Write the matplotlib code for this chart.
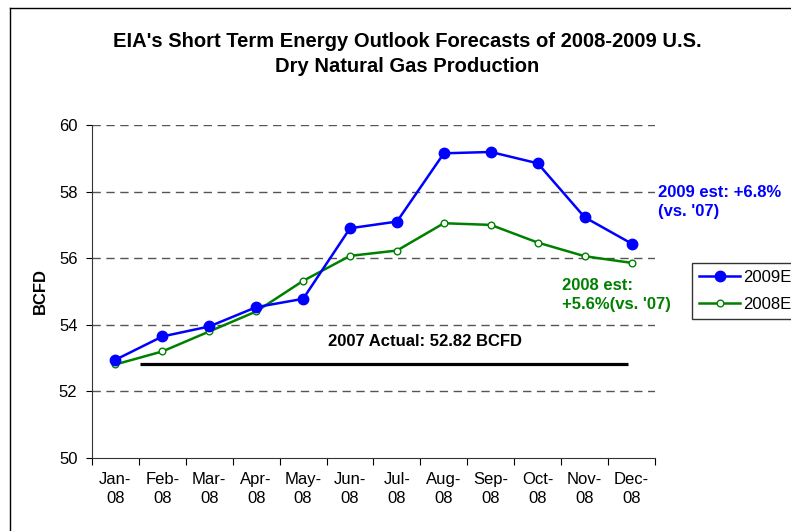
import matplotlib
import matplotlib.pyplot as plt
from matplotlib.lines import Line2D

matplotlib.use("Agg")

plt.rcParams["font.family"] = ["Liberation Sans", "DejaVu Sans"]

# Dados (BCFD)
months = ["Jan-\n08", "Feb-\n08", "Mar-\n08", "Apr-\n08", "May-\n08", "Jun-\n08",
          "Jul-\n08", "Aug-\n08", "Sep-\n08", "Oct-\n08", "Nov-\n08", "Dec-\n08"]
est_2009 = [52.95, 53.65, 53.95, 54.53, 54.78, 56.9, 57.1, 59.15, 59.19, 58.85, 57.23, 56.44]
est_2008 = [52.81, 53.2, 53.8, 54.4, 55.32, 56.07, 56.23, 57.05, 57.0, 56.47, 56.06, 55.86]
actual_2007 = 52.82

fig = plt.figure(figsize=(7.91, 5.31), dpi=100)
ax = fig.add_axes([92 / 791, 1 - 458 / 531, 563 / 791, 333 / 531])

x = list(range(len(months)))
ax.plot(x, est_2009, color="#0000FF", linewidth=1.8, marker="o", markersize=7.5,
        markerfacecolor="#0000FF", markeredgecolor="#0000FF", label="2009E", zorder=4)
ax.plot(x, est_2008, color="#008000", linewidth=1.8, marker="o", markersize=4.8,
        markerfacecolor="white", markeredgecolor="#008000", markeredgewidth=1.0,
        label="2008E", zorder=3)
ax.hlines(actual_2007, 0.53, 10.93, color="black", linewidth=2.3, zorder=2)

ax.set_xlim(-0.5, 11.5)
ax.set_ylim(50, 60)
ax.set_yticks([50, 52, 54, 56, 58, 60])
ax.set_xticks(x)
ax.set_xticklabels(months)
ax.set_xticks([i - 0.5 for i in range(13)], minor=True)
ax.tick_params(axis="x", which="major", length=0, pad=10, labelsize=12)
ax.tick_params(axis="x", which="minor", length=5, width=0.8, direction="out")
ax.tick_params(axis="y", length=4.5, width=0.8, direction="out", pad=6, labelsize=12)
for lbl in ax.get_xticklabels():
    lbl.set_linespacing(1.35)

for v in [52, 54, 56, 58, 60]:
    ax.axhline(v, color="#555555", linewidth=1.0, dashes=(6, 4), zorder=1)

for side in ["top", "right"]:
    ax.spines[side].set_visible(False)
for side in ["left", "bottom"]:
    ax.spines[side].set_linewidth(0.8)
    ax.spines[side].set_color("#333333")

ax.set_ylabel("BCFD", fontsize=12, fontweight="bold")
ax.yaxis.set_label_coords(-0.078, 0.5)

ax.text(6.6, 53.5, "2007 Actual: 52.82 BCFD", fontsize=12, fontweight="bold",
        ha="center", va="center")
fig.text(658 / 791, 1 - 202 / 531, "2009 est: +6.8%\n(vs. '07)", color="#0000FF",
         fontsize=12, fontweight="bold", ha="left", va="center", linespacing=1.4)
fig.text(562 / 791, 1 - 295 / 531, "2008 est:\n+5.6%(vs. '07)", color="#008000",
         fontsize=12, fontweight="bold", ha="left", va="center", linespacing=1.4)

fig.text(407 / 791, 1 - 54 / 531,
         "EIA's Short Term Energy Outlook Forecasts of 2008-2009 U.S.\nDry Natural Gas Production",
         fontsize=14.5, fontweight="bold", ha="center", va="center", linespacing=1.45)

leg = fig.legend(loc="upper left", bbox_to_anchor=(692 / 791, 1 - 263 / 531),
                 bbox_transform=fig.transFigure, fontsize=12, frameon=True,
                 fancybox=False, handlelength=2.5, handletextpad=0.15,
                 borderpad=0.4, labelspacing=0.75, borderaxespad=0)
leg.get_frame().set_edgecolor("black")
leg.get_frame().set_linewidth(1.0)

# borda externa (área do gráfico)
fig.add_artist(Line2D([10 / 791, 10 / 791], [0, 1 - 8 / 531], color="black",
                      linewidth=1.0, transform=fig.transFigure))
fig.add_artist(Line2D([10 / 791, 1], [1 - 8 / 531, 1 - 8 / 531], color="black",
                      linewidth=1.0, transform=fig.transFigure))

fig.savefig("out.png", dpi=100)
plt.close(fig)
